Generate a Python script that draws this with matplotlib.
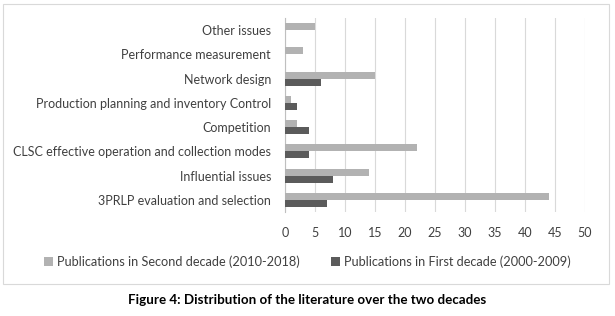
import matplotlib
matplotlib.use("Agg")
import matplotlib.pyplot as plt
from matplotlib.patches import Rectangle
import numpy as np

plt.rcParams['font.family'] = ['Lato', 'DejaVu Sans']

categories = ["3PRLP evaluation and selection", "Influential issues",
              "CLSC effective operation and collection modes", "Competition",
              "Production planning and inventory Control", "Network design",
              "Performance measurement", "Other issues"]
second_decade = [44, 14, 22, 2, 1, 15, 3, 5]
first_decade = [7, 8, 4, 4, 2, 6, 0, 0]
xticks = list(range(0, 55, 5))
label_second = "Publications in Second decade (2010-2018)"
label_first = "Publications in First decade (2000-2009)"
caption = "Figure 4: Distribution of the literature over the two decades"

fig = plt.figure(figsize=(6.15, 3.16), dpi=100)
ax = fig.add_axes([285/615, 1-212/316, 300/615, 194/316])

y = np.arange(len(categories))
h = 0.29
ax.barh(y + h/2, second_decade, height=h, color="#b2b2b2", label=label_second, zorder=3)
ax.barh(y - h/2, first_decade, height=h, color="#5b5b5b", label=label_first, zorder=3)

ax.set_xlim(0, 50)
ax.set_ylim(-0.5, len(categories) - 0.5)
ax.set_xticks(xticks)
ax.set_yticks(y)
ax.set_yticklabels(categories)
ax.tick_params(axis='both', length=0, labelsize=9.0, colors="#404040")
ax.tick_params(axis='y', pad=10)
ax.tick_params(axis='x', pad=11)
ax.grid(axis='x', color="#d9d9d9", linewidth=0.8, zorder=0)
for s in ["top", "right", "bottom"]:
    ax.spines[s].set_visible(False)
ax.spines["left"].set_color("#bfbfbf")
ax.spines["left"].set_linewidth(0.8)

handles, labels = ax.get_legend_handles_labels()
fig.legend(handles, labels, loc="center", bbox_to_anchor=(0.5, 1-262/316), ncol=2,
           frameon=False, fontsize=9.2, handlelength=0.7, handleheight=0.7,
           columnspacing=2.5, handletextpad=0.3, labelcolor="#404040")

fig.patches.append(Rectangle((3/615, 1-284/316), 606/615, 280/316, transform=fig.transFigure,
                             fill=False, edgecolor="#d9d9d9", linewidth=0.8))

fig.text(0.5, 1-300/316, caption, ha="center", va="center", fontsize=9.6, fontweight="bold",
         color="black")

fig.savefig("out.png", dpi=100)
